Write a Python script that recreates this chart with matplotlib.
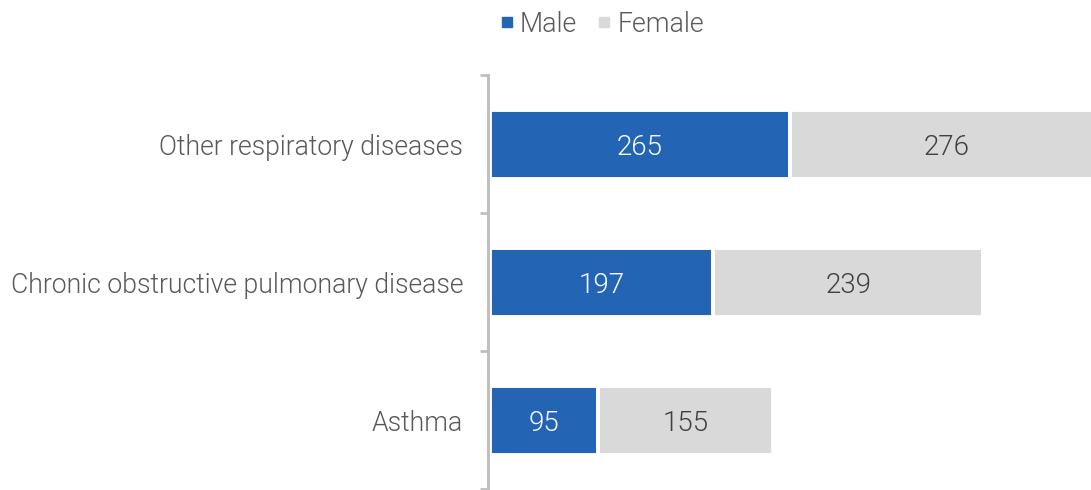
import matplotlib
matplotlib.use("Agg")
import matplotlib.pyplot as plt
from matplotlib.lines import Line2D

plt.rcParams['font.family'] = ['Roboto', 'DejaVu Sans']
plt.rcParams['font.weight'] = 300

categories = ["Asthma", "Chronic obstructive pulmonary disease", "Other respiratory diseases"]
male = [95, 197, 265]
female = [155, 239, 276]

male_color = "#2364b5"
female_color = "#d9d9d9"
text_gray = "#595959"
FS_VAL = 20
FS_CAT = 19.2
FS_LEG = 19.3

fig = plt.figure(figsize=(10.91, 4.90), dpi=100)
ax = fig.add_axes([490 / 1091, 1 / 490, 601 / 1091, 414 / 490])

y = list(range(len(categories)))
h = 0.50
ax.barh(y, male, height=h, color=male_color, edgecolor="white", linewidth=2.8)
ax.barh(y, female, left=male, height=h, color=female_color, edgecolor="white", linewidth=2.8)

for i in y:
    ax.text(male[i] / 2, i, str(male[i]), ha="center", va="center_baseline",
            color="white", fontsize=FS_VAL, fontweight=300)
    ax.text(male[i] + female[i] / 2, i, str(female[i]), ha="center", va="center_baseline",
            color="#404040", fontsize=FS_VAL, fontweight=300)

ax.set_xlim(0, 531)
ax.set_ylim(-0.5, len(categories) - 0.5)
ax.set_xticks([])
ax.set_yticks(y)
ax.set_yticklabels(categories)
ax.tick_params(axis="y", which="major", length=0, pad=18, labelsize=FS_CAT, labelcolor=text_gray)
for lbl in ax.get_yticklabels():
    lbl.set_fontweight(300)
ax.set_yticks([-0.5, 0.5, 1.5, 2.5], minor=True)
ax.tick_params(axis="y", which="minor", length=6, width=2, color="#bfbfbf")

for s in ["top", "right", "bottom"]:
    ax.spines[s].set_visible(False)
ax.spines["left"].set_color("#bfbfbf")
ax.spines["left"].set_linewidth(2.2)
ax.spines["left"].set_position(("outward", 1.2))

handles = [Line2D([], [], marker="s", linestyle="none", markersize=7,
                  markerfacecolor=male_color, markeredgecolor=male_color),
           Line2D([], [], marker="s", linestyle="none", markersize=7,
                  markerfacecolor=female_color, markeredgecolor=female_color)]
fig.legend(handles, ["Male", "Female"], loc="center", bbox_to_anchor=(600 / 1091, 1 - 24 / 490),
           ncol=2, frameon=False, labelcolor=text_gray,
           prop={"weight": 300, "size": FS_LEG},
           handletextpad=0.1, columnspacing=0.6, handlelength=0.8)

fig.savefig("out.png", dpi=100)
